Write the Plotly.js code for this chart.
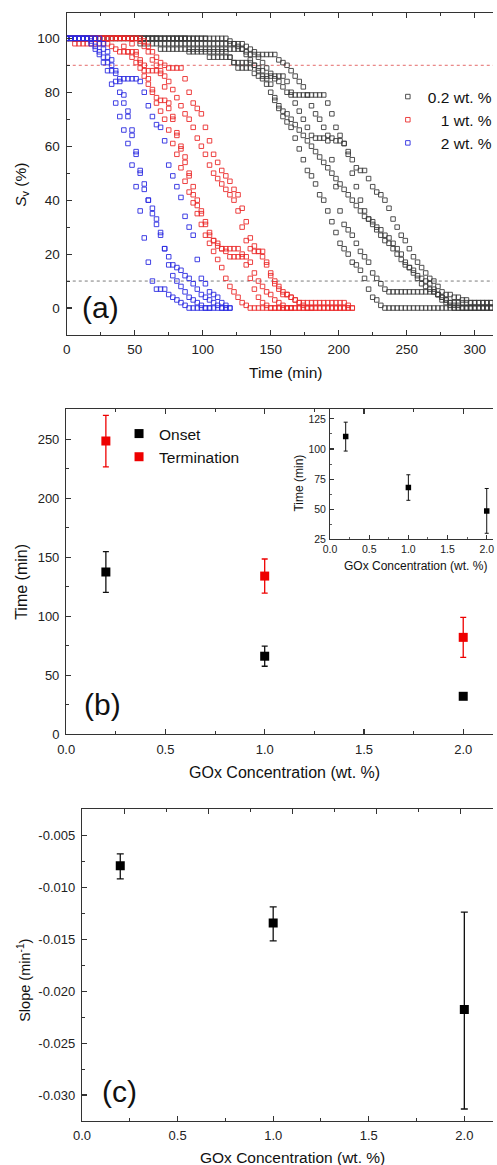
<!DOCTYPE html>
<html><head><meta charset="utf-8">
<script src="https://cdn.plot.ly/plotly-3.0.1.min.js"></script>
<style>html,body{margin:0;padding:0;background:#fff}#chart{width:497px;height:1165px}</style>
</head><body><div id="chart"></div>
<script>
// ---------- panel (a): time series (min) ----------
const times = [0,3,6,9,12,15,18,21,24,27,30,33,36,39,42,45,48,51,54,57,60,63,66,69,72,75,78,81,84,87,90,93,96,99,102,105,108,111,114,117,120,123,126,129,132,135,138,141,144,147,150,153,156,159,162,165,168,171,174,177,180,183,186,189,192,195,198,201,204,207,210,213,216,219,222,225,228,231,234,237,240,243,246,249,252,255,258,261,264,267,270,273,276,279,282,285,288,291,294,297,300,303,306,309,312];

// 0.2 wt. % replicates (Sv, %)
const black1 = [100,100,100,100,100,100,100,100,100,100,100,100,100,100,100,100,100,100,100,100,100,100,100,100,100,100,100,100,100,100,100,100,100,100,100,100,100,100,100,100,
99,98,97,96,94,92,90,88,86,85,83,78,74,71,69,67,63,59,55,51,49,46,42,40,36,32,28,24,22,20,17,16,14,11,7,4,3,1,0,
0,0,0,0,0,0,0,0,0,0,0,0,0,0,0,0,0,0,0,0,0,0,0,0,0,0];
const black2 = [100,100,100,100,100,100,100,100,100,100,100,100,100,100,100,100,100,100,
98,98,98,98,98,98,98,98,98,98,98,98,98,98,98,98,98,98,98,98,98,98,98,98,98,98,
97,96,95,93,91,89,87,85,84,82,80,
79,79,79,79,79,79,79,79,79,
76,72,67,64,61,57,50,45,40,36,33,31,29,27,25,24,22,20,18,16,15,13,11,9,8,7,6,5,4,3,
2,2,2,2,2,2,2,2,2,2,2];
const black3 = [100,100,100,100,100,100,100,100,100,100,100,100,100,100,100,100,100,100,100,100,100,100,100,
96,96,96,96,96,96,96,96,96,96,96,96,96,96,96,96,96,96,96,96,96,
95,94,94,94,94,94,94,94,
92,91,90,88,86,84,82,79,75,72,70,67,64,63,62,62,61,58,55,52,51,51,48,45,43,42,40,37,33,30,27,25,22,19,17,15,13,11,10,8,6,5,5,4,4,3,3,
2,2,2,2,2,2];
const black4 = [100,100,100,100,100,100,100,100,100,100,100,100,100,100,100,100,100,100,100,100,100,100,100,100,100,100,100,100,100,100,
95,95,95,95,95,95,95,95,95,95,93,91,91,91,91,91,90,89,88,86,86,86,86,86,
84,80,76,73,70,67,64,63,63,63,62,55,45,36,31,29,27,24,21,19,17,13,11,9,7,
6,6,6,6,6,6,6,6,6,6,6,6,5,3,2,1,
0,0,0,0,0,0,0,0,0,0];
const black5 = [100,100,100,100,100,100,100,100,100,100,100,100,100,100,100,100,100,100,100,100,100,100,100,100,100,100,100,100,100,100,100,100,100,100,100,
93,93,93,93,93,93,91,89,89,89,89,
87,86,85,83,80,77,75,73,72,70,68,66,64,62,60,58,56,54,52,50,48,46,44,42,40,38,36,34,33,32,30,29,27,26,24,22,20,17,15,14,12,11,10,9,7,5,4,3,2,1,1,
0,0,0,0,0,0,0,0];

// 1 wt. % replicates
const red1 = [100,100,98,98,98,98,98,98,98,98,98,97,
96,95,95,95,93,91,89,86,83,80,76,73,70,66,61,57,52,47,43,39,35,31,27,24,21,18,15,11,8,6,4,2,1,0,
0,0,0,0,0,0,0,0,0,0];
const red2 = [100,100,100,100,100,100,100,100,100,100,100,100,100,100,100,100,
98,95,92,90,88,88,88,87,82,76,71,65,60,56,50,45,40,36,32,28,25,23,22,22,22,22,22,20,16,11,7,4,2,1,
0,0,0,0,0,0,0,0,0,0,0];
const red3 = [100,100,100,100,100,100,100,100,100,100,100,100,100,100,100,100,100,100,100,
99,97,95,93,91,90,89,89,89,89,85,80,76,74,72,67,62,57,54,51,49,47,44,42,37,32,26,23,21,19,16,12,9,7,5,5,4,3,2,2,
2,2,2,2,2,2,2,2,2,2,1,0];
const red4 = [100,100,100,100,100,100,100,100,100,100,100,100,100,100,
97,95,95,94,91,88,85,81,78,77,77,74,70,64,59,54,49,42,38,35,31,27,25,24,22,21,19,19,19,19,19,17,13,10,8,6,5,3,2,1,
0,0,0,0,0,0,0,0,0,0,0,0,0,0,0,0];
const red5 = [100,100,100,100,100,100,100,100,100,100,100,100,100,100,100,100,100,100,
99,97,95,92,90,88,86,84,81,78,75,72,70,67,63,60,57,53,50,48,46,44,42,40,36,30,25,22,21,21,21,17,13,10,8,6,5,4,3,2,1,
0,0,0,0,0,0,0,0,0,0,0,0];

// 2 wt. % replicates
const blue1 = [100,100,100,100,100,100,98,96,94,91,88,83,76,71,66,61,53,45,36,26,17,10,7,7,7,5,4,3,2,1,0,0,0,0,0,0];
const blue2 = [100,100,100,100,100,100,100,100,98,96,93,90,87,85,85,85,85,85,84,80,75,71,68,67,62,53,49,45,41,34,30,27,18,11,9,6,5,4,2,1,0];
const blue3 = [100,100,100,100,100,100,100,100,100,98,95,92,88,84,79,73,66,58,50,44,40,37,33,28,22,16,12,10,8,6,4,3,2,1,0,0,0,0,0,0];
const blue4 = [100,100,100,100,100,100,99,97,95,93,91,88,84,80,76,71,64,57,51,46,40,35,31,27,22,19,16,15,14,12,11,9,7,5,4,3,2,1,0,0,0];

const seriesNames = ['0.2 wt. %', '\u00a0\u00a0\u00a01 wt. %', '\u00a0\u00a0\u00a02 wt. %'];
const thresholds = [90, 10];

// ---------- panel (b) ----------
const concentration = [0.2, 1.0, 2.0];
const onset = [137.5, 66, 32];
const onsetErr = [17.3, 8.5, 2];
const termination = [248.5, 134, 82];
const terminationErr = [21.8, 14.5, 17];
// inset
const insetTime = [110.3, 68, 48.6];
const insetErr = [12, 10.6, 18.6];

// ---------- panel (c) ----------
const slope = [-0.0079, -0.01342, -0.02176];
const slopeErrPlus = [0.00115, 0.00156, 0.00939];
const slopeErrMinus = [0.00125, 0.00171, 0.00959];
const slopeTickVals = [-0.030, -0.025, -0.020, -0.015, -0.010, -0.005];
const slopeTickText = ['-0.030', '-0.025', '-0.020', '-0.015', '-0.010', '-0.005'];

// ---------- build ----------
const FONT = 'Liberation Sans, Arial, Helvetica, sans-serif';
const AX = '#333';
const H = 1165, W = 497;
const py = v => 1 - v / H, px = v => v / W;

const traces = [];
const groups = [
  {data: [black1, black2, black3, black4, black5], color: 'rgb(60,60,60)', name: seriesNames[0], g: 'k'},
  {data: [red1, red2, red3, red4, red5], color: 'rgb(235,45,45)', name: seriesNames[1], g: 'r'},
  {data: [blue1, blue2, blue3, blue4], color: 'rgb(45,45,225)', name: seriesNames[2], g: 'b'}
];
groups.forEach(gr => {
  gr.data.forEach((vals, i) => {
    traces.push({
      type: 'scatter', mode: 'markers', x: times, y: vals,
      xaxis: 'x', yaxis: 'y', legend: 'legend',
      name: gr.name, legendgroup: gr.g, showlegend: i === 0,
      marker: {symbol: 'square-open', size: 4.5, color: gr.color, line: {width: 0.9, color: gr.color}}
    });
  });
});

traces.push({
  type: 'scatter', mode: 'markers', x: concentration, y: onset, name: 'Onset',
  xaxis: 'x2', yaxis: 'y2', legend: 'legend2',
  marker: {symbol: 'square', size: 9, color: '#000'},
  error_y: {type: 'data', array: onsetErr, color: '#111', thickness: 1.3, width: 3}
});
traces.push({
  type: 'scatter', mode: 'markers', x: concentration, y: termination, name: 'Termination',
  xaxis: 'x2', yaxis: 'y2', legend: 'legend2',
  marker: {symbol: 'square', size: 9, color: 'rgb(238,0,0)'},
  error_y: {type: 'data', array: terminationErr, color: 'rgb(238,0,0)', thickness: 1.3, width: 3}
});
traces.push({
  type: 'scatter', mode: 'markers', x: concentration, y: insetTime, showlegend: false,
  xaxis: 'x3', yaxis: 'y3',
  marker: {symbol: 'square', size: 5.5, color: '#000'},
  error_y: {type: 'data', array: insetErr, color: '#111', thickness: 1, width: 2}
});
traces.push({
  type: 'scatter', mode: 'markers', x: concentration, y: slope, showlegend: false,
  xaxis: 'x4', yaxis: 'y4',
  marker: {symbol: 'square', size: 9, color: '#000'},
  error_y: {type: 'data', symmetric: false, array: slopeErrPlus, arrayminus: slopeErrMinus, color: '#111', thickness: 1.3, width: 3.5}
});
// trace carrying the top axis of panel (c)
traces.push({type: 'scatter', mode: 'markers', x: [0.2], y: [slope[0]], xaxis: 'x5', yaxis: 'y4', showlegend: false,
  marker: {size: 1, opacity: 0}});

function axis(o) {
  return Object.assign({
    showline: true, linecolor: AX, linewidth: 1.2, ticks: 'inside', ticklen: 5, tickwidth: 1.1, tickcolor: AX,
    showgrid: false, zeroline: false, tickfont: {family: FONT, size: 13.5, color: '#222'},
    minor: {ticks: 'inside', ticklen: 3, tickwidth: 1, tickcolor: AX}
  }, o);
}

const layout = {
  width: W, height: H, margin: {l: 0, r: 0, t: 0, b: 0},
  paper_bgcolor: '#fff', plot_bgcolor: 'rgba(0,0,0,0)',
  font: {family: FONT, color: '#111'},
  xaxis: axis({domain: [px(67.3), 1], anchor: 'y', range: [0, 313.5], tick0: 0, dtick: 50, mirror: 'ticks',
    minor: {ticks: 'inside', ticklen: 3, tickwidth: 1, tickcolor: AX, dtick: 25}, ticklabelstandoff: 2}),
  yaxis: axis({domain: [py(335), py(12.7)], anchor: 'x', range: [-10, 109.5], tick0: 0, dtick: 20,
    minor: {ticks: 'inside', ticklen: 3, tickwidth: 1, tickcolor: AX, dtick: 10, tick0: 0}, ticklabelstandoff: 3}),
  xaxis2: axis({domain: [px(66.7), 1], anchor: 'y2', range: [0, 2.15], tick0: 0, dtick: 0.5, tickformat: '.1f', mirror: 'ticks',
    tickfont: {family: FONT, size: 13, color: '#222'},
    minor: {ticks: 'inside', ticklen: 3, tickwidth: 1, tickcolor: AX, dtick: 0.25}, ticklabelstandoff: 3}),
  yaxis2: axis({domain: [py(734), py(409.3)], anchor: 'x2', range: [0, 275.5], tick0: 0, dtick: 50,
    tickfont: {family: FONT, size: 13, color: '#222'},
    minor: {ticks: 'inside', ticklen: 3, tickwidth: 1, tickcolor: AX, dtick: 25}, ticklabelstandoff: 3}),
  xaxis3: axis({domain: [px(332.7), 1], anchor: 'y3', range: [0, 2.08], tick0: 0, dtick: 0.5, tickformat: '.1f',
    ticklen: 4, tickfont: {family: FONT, size: 10.5, color: '#222'}, linewidth: 1,
    minor: {ticks: 'inside', ticklen: 2, tickwidth: 0.8, tickcolor: AX, dtick: 0.25}, ticklabelstandoff: 0}),
  yaxis3: axis({domain: [py(539.3), py(409.3)], anchor: 'x3', range: [25, 133], tick0: 0, dtick: 25,
    ticklen: 4, tickfont: {family: FONT, size: 10.5, color: '#222'}, linewidth: 1,
    minor: {ticks: 'inside', ticklen: 2, tickwidth: 0.8, tickcolor: AX, dtick: 12.5, tick0: 0}, ticklabelstandoff: 1}),
  xaxis4: axis({domain: [px(82.7), 1], anchor: 'y4', range: [0, 2.15], tick0: 0, dtick: 0.5, tickformat: '.1f',
    tickfont: {family: FONT, size: 13, color: '#222'},
    minor: {ticks: 'inside', ticklen: 3, tickwidth: 1, tickcolor: AX, dtick: 0.25}, ticklabelstandoff: 2}),
  xaxis5: axis({domain: [px(82.7), 1], anchor: 'y4', overlaying: 'x4', side: 'top', range: [0, 2.443],
    tick0: 0.25, dtick: 0.5, showticklabels: false,
    minor: {ticks: 'inside', ticklen: 3, tickwidth: 1, tickcolor: AX, dtick: 0.25, tick0: 0}}),
  yaxis4: axis({domain: [py(1120.7), py(809.3)], anchor: 'x4', range: [-0.03248, -0.00245],
    tickmode: 'array', tickvals: slopeTickVals, ticktext: slopeTickText,
    tickfont: {family: FONT, size: 13, color: '#222'},
    minor: {ticks: 'inside', ticklen: 3, tickwidth: 1, tickcolor: AX, tickmode: 'linear', tick0: 0, dtick: 0.0025}, ticklabelstandoff: 3}),
  legend: {x: px(391), y: py(80), xanchor: 'left', yanchor: 'top', bgcolor: 'rgba(0,0,0,0)',
    font: {family: FONT, size: 15.5, color: '#111'}, tracegroupgap: 0, itemclick: false},
  legend2: {x: px(120), y: py(417), xanchor: 'left', yanchor: 'top', bgcolor: 'rgba(0,0,0,0)',
    font: {family: FONT, size: 15.5, color: '#111'}, tracegroupgap: 4},
  shapes: [
    {type: 'line', xref: 'x', yref: 'y', x0: 0, x1: 313.5, y0: thresholds[0], y1: thresholds[0], layer: 'below',
      line: {color: 'rgba(225,90,90,0.9)', width: 1, dash: 'dot'}},
    {type: 'line', xref: 'x', yref: 'y', x0: 0, x1: 313.5, y0: thresholds[1], y1: thresholds[1], layer: 'below',
      line: {color: 'rgba(110,110,110,0.9)', width: 1, dash: 'dot'}}
  ],
  annotations: [
    {text: '(a)', x: px(101), y: py(308), font: {size: 30}},
    {text: '(b)', x: px(103), y: py(704), font: {size: 30}},
    {text: '(c)', x: px(120), y: py(1091), font: {size: 30}},
    {text: 'Time (min)', x: px(287.5), y: py(372.7), font: {size: 15.5}},
    {text: '<i>S</i><sub>v</sub> (%)', x: px(21), y: py(185), textangle: -90, font: {size: 15.5}},
    {text: 'GOx Concentration (wt. %)', x: px(286.5), y: py(772.7), font: {size: 16}},
    {text: 'Time (min)', x: px(21), y: py(582), textangle: -90, font: {size: 16}},
    {text: 'GOx Concentration (wt. %)', x: px(419), y: py(565.7), font: {size: 12}},
    {text: 'Time (min)', x: px(301), y: py(483), textangle: -90, font: {size: 12}},
    {text: 'GOx Concentration (wt. %)', x: px(295), y: py(1157), font: {size: 15.5}},
    {text: 'Slope (min<sup>-1</sup>)', x: px(24), y: py(980), textangle: -90, font: {size: 14.5}}
  ].map(a => Object.assign({xref: 'paper', yref: 'paper', showarrow: false, xanchor: 'center', yanchor: 'middle'}, a,
    {font: Object.assign({family: FONT, color: '#111'}, a.font)}))
};

Plotly.newPlot('chart', traces, layout, {displayModeBar: false, staticPlot: true});
</script>
</body></html>
